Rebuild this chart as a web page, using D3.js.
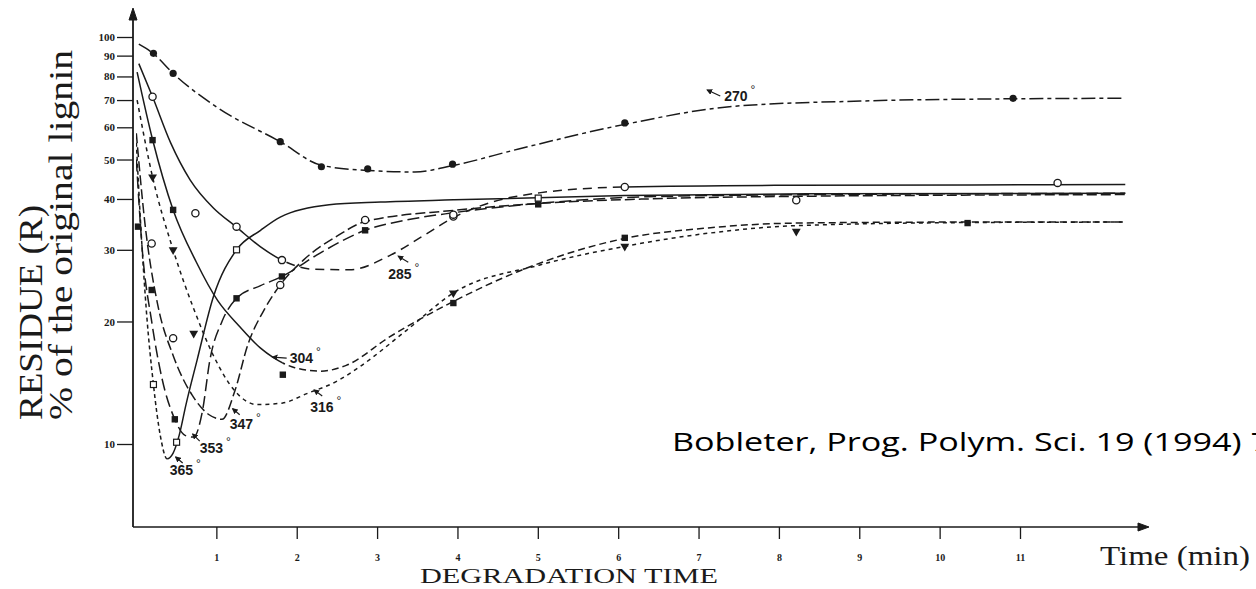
<!DOCTYPE html>
<html>
<head>
<meta charset="utf-8">
<script src="https://cdn.jsdelivr.net/npm/d3@7"></script>
<style>
  html, body { margin: 0; padding: 0; background: #fff; }
  svg { display: block; }
</style>
</head>
<body>
<div id="chart"></div>
<script>
// tick values
const yTicks = [10, 20, 30, 40, 50, 60, 70, 80, 90, 100];
const xTicks = [1, 2, 3, 4, 5, 6, 7, 8, 9, 10, 11];

// fitted curves, [time (min), residue %]
const curve270 = [[0.035,96],[0.217,91],[0.462,81.4],[1.017,67],[1.795,55.3],[2.307,48.4],[2.883,47],[3.47,46.6],[3.939,48.3],[4.749,53],[6.082,61],[7.416,67.5],[9.015,69.6],[10.914,70.5],[12.31,70.7]];
const curve285 = [[0.035,86],[0.206,71.3],[0.43,55],[0.675,44.5],[0.963,38],[1.251,34.1],[1.55,30.5],[1.816,28.3],[2.19,26.9],[2.659,26.8],[3.15,29],[3.576,32.5],[3.949,36],[4.429,39.3],[5.016,41.4],[6.082,42.8],[7.949,43.2],[10.402,43.3],[12.31,43.4]];
const curve304 = [[0.014,82],[0.206,56],[0.462,37.6],[0.75,28],[1.017,22.5],[1.283,19.5],[1.55,17.2],[1.71,16.3],[1.976,15.4],[2.296,15.1],[2.616,15.6],[3.15,18.3],[3.949,22.4],[4.749,26.5],[6.082,32],[7.149,34],[8.216,34.9],[10.348,35.1],[12.31,35.1]];
const curve316 = [[0.014,70],[0.206,45.3],[0.462,30],[0.718,21.5],[0.963,16.5],[1.23,13.5],[1.507,12.5],[1.816,12.6],[2.126,13.3],[2.51,14.3],[2.787,15.5],[3.363,19],[3.949,23.5],[5.016,27.5],[6.082,30.6],[7.149,33],[8.216,34.4],[10.348,35],[12.31,35.1]];
const curve347 = [[0.004,58],[0.11,35],[0.27,22],[0.462,16.5],[0.697,13.2],[0.91,11.8],[1.07,11.5],[1.23,13.5],[1.39,17.5],[1.603,21.5],[1.795,24.6],[2.083,28.3],[2.51,32.5],[2.851,35.2],[3.949,37.5],[5.016,39],[6.349,40],[8.216,40.6],[12.31,41]];
const curve353 = [[0.004,50],[0.078,30],[0.195,20],[0.323,14.5],[0.483,11.5],[0.611,10.5],[0.718,10.4],[0.825,12],[0.92,16.1],[1.07,20],[1.251,22.8],[1.55,24.5],[1.816,25.8],[2.296,29.5],[2.851,33.5],[3.363,35.5],[3.949,37],[5.005,39],[6.349,40.5],[8.482,41],[12.31,41.3]];
const curve365 = [[0.004,55],[0.057,35],[0.131,21],[0.217,14],[0.302,10.5],[0.387,9.2],[0.462,9.5],[0.537,10.5],[0.622,12.5],[0.761,16.1],[0.963,23],[1.251,30],[1.55,33.5],[1.795,36.1],[2.403,38.7],[3.043,39.3],[3.949,39.8],[6.082,40.8],[8.482,41.2],[12.31,41.3]];

// measured points
const marks270 = [[0.217,91.2],[0.462,81.4],[1.795,55.3],[2.307,48.0],[2.883,47.4],[3.939,48.7],[6.082,61.5],[10.914,70.7]];
const marks285 = [[0.206,71.3],[0.739,36.9],[1.251,34.2],[1.816,28.3],[3.949,36.2],[6.082,42.8],[11.468,43.8]];
const marks304 = [[0.206,55.8],[0.462,37.6],[1.827,14.8],[3.949,22.2],[6.082,32.1],[10.348,34.9]];
const marks316 = [[0.206,45.3],[0.462,30],[0.718,18.7],[3.949,23.5],[6.082,30.6],[8.216,33.3]];
const marks347 = [[0.195,31.1],[0.462,18.2],[1.795,24.6],[2.851,35.5],[3.949,36.6],[8.216,39.7]];
const marks353 = [[0.025,34.2],[0.195,23.9],[0.483,11.5],[1.251,22.8],[1.816,25.8],[2.851,33.5],[5.005,38.8]];
const marks365 = [[0.217,14],[0.505,10.1],[1.251,30],[5.005,40.2]];

// temperature labels (°C): text anchor in data units
const labelNames = ["270", "285", "304", "316", "347", "353", "365"];
const labelT = [7.32, 3.139, 1.912, 2.168, 1.166, 0.793, 0.419];
const labelR = [69.6, 25.4, 15.8, 11.98, 10.9, 9.5, 8.39];

const width = 1256, height = 589;
const ink = "#1a1a1a";

const svg = d3.select("#chart").append("svg")
  .attr("width", width)
  .attr("height", height)
  .style("background", "#fff");

const x = d3.scaleLinear().domain([0, 11]).range([136, 1020]);
const y = d3.scaleLog().domain([10, 100]).range([444, 37]);
const x0 = 133, yBase = 527;

const defs = svg.append("defs");
defs.append("marker")
  .attr("id", "head")
  .attr("viewBox", "0 0 10 10")
  .attr("refX", 8).attr("refY", 5)
  .attr("markerWidth", 5).attr("markerHeight", 5)
  .attr("orient", "auto")
  .append("path").attr("d", "M0,0L10,5L0,10z").attr("fill", ink);

// ---- axes ----
const axes = svg.append("g").attr("stroke", ink).attr("fill", "none");
axes.append("line").attr("x1", x0).attr("x2", x0).attr("y1", yBase).attr("y2", 18).attr("stroke-width", 1.8);
axes.append("path").attr("d", `M${x0 - 4},20L${x0},8L${x0 + 4},20z`).attr("fill", ink);
axes.append("line").attr("x1", x0).attr("x2", 1140).attr("y1", yBase).attr("y2", yBase).attr("stroke-width", 1.6);
axes.append("path").attr("d", `M1138,${yBase - 4}L1149,${yBase}L1138,${yBase + 4}z`).attr("fill", ink);

const yAxis = svg.append("g")
  .attr("transform", `translate(${x0},0)`)
  .call(d3.axisLeft(y).tickValues(yTicks).tickFormat(d3.format("d")).tickSize(16).tickPadding(2));
yAxis.select(".domain").remove();
yAxis.selectAll("line").attr("stroke", ink).attr("stroke-width", 1.3);
yAxis.selectAll("text")
  .attr("fill", ink)
  .style("font", "bold 11px 'Liberation Serif', serif");

const xAxis = svg.append("g")
  .attr("transform", `translate(0,${yBase})`)
  .call(d3.axisBottom(x).tickValues(xTicks).tickFormat(d3.format("d")).tickSize(12).tickPadding(15));
xAxis.select(".domain").remove();
xAxis.selectAll("line").attr("stroke", ink).attr("stroke-width", 1.3);
xAxis.selectAll("text")
  .attr("fill", ink)
  .style("font", "bold 10px 'Liberation Serif', serif");

// axis titles
svg.append("text")
  .attr("transform", "translate(42,420) rotate(-90)")
  .attr("textLength", 215).attr("lengthAdjust", "spacingAndGlyphs")
  .attr("fill", ink)
  .style("font", "33px 'Liberation Serif', serif")
  .text("RESIDUE (R)");
svg.append("text")
  .attr("transform", "translate(72,420) rotate(-90)")
  .attr("textLength", 370).attr("lengthAdjust", "spacingAndGlyphs")
  .attr("fill", ink)
  .style("font", "33px 'Liberation Serif', serif")
  .text("% of the original lignin");
svg.append("text")
  .attr("x", 1100).attr("y", 565)
  .attr("textLength", 150).attr("lengthAdjust", "spacingAndGlyphs")
  .attr("fill", ink)
  .style("font", "27px 'Liberation Serif', serif")
  .text("Time (min)");
svg.append("text")
  .attr("x", 420).attr("y", 583)
  .attr("textLength", 298).attr("lengthAdjust", "spacingAndGlyphs")
  .attr("fill", ink)
  .style("font", "22px 'Liberation Serif', serif")
  .text("DEGRADATION TIME");

// citation
svg.append("text")
  .attr("x", 672).attr("y", 451)
  .attr("textLength", 598).attr("lengthAdjust", "spacingAndGlyphs")
  .attr("fill", "#000")
  .style("font", "26px 'Open Sans', sans-serif")
  .text("Bobleter, Prog. Polym. Sci. 19 (1994) 7");

// ---- series ----
const series = [
  { name: "270", curve: curve270, marks: marks270, sym: "dot",     segs: [[0, 13, "14,4,4,4"]] },
  { name: "285", curve: curve285, marks: marks285, sym: "circle",  segs: [[0, 1.816, null], [1.816, 6.082, "9,6"], [6.082, 13, null]] },
  { name: "304", curve: curve304, marks: marks304, sym: "square",  segs: [[0, 1.827, null], [1.827, 13, "7,4"]] },
  { name: "316", curve: curve316, marks: marks316, sym: "tri",     segs: [[0, 13, "4,4"]] },
  { name: "347", curve: curve347, marks: marks347, sym: "circle",  segs: [[0, 13, "10,4"]] },
  { name: "353", curve: curve353, marks: marks353, sym: "square",  segs: [[0, 13, "12,5"]] },
  { name: "365", curve: curve365, marks: marks365, sym: "osquare", segs: [[0, 0.387, "4,3"], [0.387, 13, null]] }
];

const line = d3.line()
  .x(d => x(d[0]))
  .y(d => y(d[1]))
  .curve(d3.curveMonotoneX);

const plot = svg.append("g");
series.forEach(s => {
  s.segs.forEach((seg, j) => {
    const id = `clip-${s.name}-${j}`;
    defs.append("clipPath").attr("id", id)
      .append("rect")
      .attr("x", x(seg[0])).attr("y", 0)
      .attr("width", x(seg[1]) - x(seg[0])).attr("height", height);
    plot.append("path")
      .datum(s.curve)
      .attr("clip-path", `url(#${id})`)
      .attr("fill", "none")
      .attr("stroke", ink)
      .attr("stroke-width", 1.5)
      .attr("stroke-dasharray", seg[2])
      .attr("d", line);
  });
});

const symTri = d3.symbol(d3.symbolTriangle, 34);
series.forEach(s => {
  const g = plot.append("g");
  s.marks.forEach(m => {
    const cx = x(m[0]), cy = y(m[1]);
    if (s.sym === "dot") {
      g.append("circle").attr("cx", cx).attr("cy", cy).attr("r", 3.6).attr("fill", ink);
    } else if (s.sym === "circle") {
      g.append("circle").attr("cx", cx).attr("cy", cy).attr("r", 3.6)
        .attr("fill", "#fff").attr("stroke", ink).attr("stroke-width", 1.3);
    } else if (s.sym === "square") {
      g.append("rect").attr("x", cx - 3.2).attr("y", cy - 3.2).attr("width", 6.4).attr("height", 6.4).attr("fill", ink);
    } else if (s.sym === "osquare") {
      g.append("rect").attr("x", cx - 3).attr("y", cy - 3).attr("width", 6).attr("height", 6)
        .attr("fill", "#fff").attr("stroke", ink).attr("stroke-width", 1.2);
    } else {
      g.append("path").attr("d", symTri())
        .attr("transform", `translate(${cx},${cy}) rotate(180)`).attr("fill", ink);
    }
  });
});

// ---- temperature labels with little arrows ----
const arrowFrom = [[-4, -5], [20, -17], [-3, -5], [12, -16], [10, -14], [0, -12], [13, -12]];
const arrowTo   = [[-17, -11], [10, -23], [-17, -6], [4, -22], [3, -20], [-7, -19], [6, -18]];
const labels = svg.append("g");
labelNames.forEach((n, i) => {
  const lx = x(labelT[i]), ly = y(labelR[i]);
  const t = labels.append("text")
    .attr("x", lx).attr("y", ly)
    .attr("fill", ink)
    .style("font", "bold 14px 'Liberation Sans', sans-serif")
    .text(n);
  t.append("tspan").attr("dx", 3).attr("dy", -7).style("font-size", "12px").style("font-weight", "normal").text("°");
  labels.append("line")
    .attr("x1", lx + arrowFrom[i][0]).attr("y1", ly + arrowFrom[i][1])
    .attr("x2", lx + arrowTo[i][0]).attr("y2", ly + arrowTo[i][1])
    .attr("stroke", ink).attr("stroke-width", 1.2)
    .attr("marker-end", "url(#head)");
});
</script>
</body>
</html>
